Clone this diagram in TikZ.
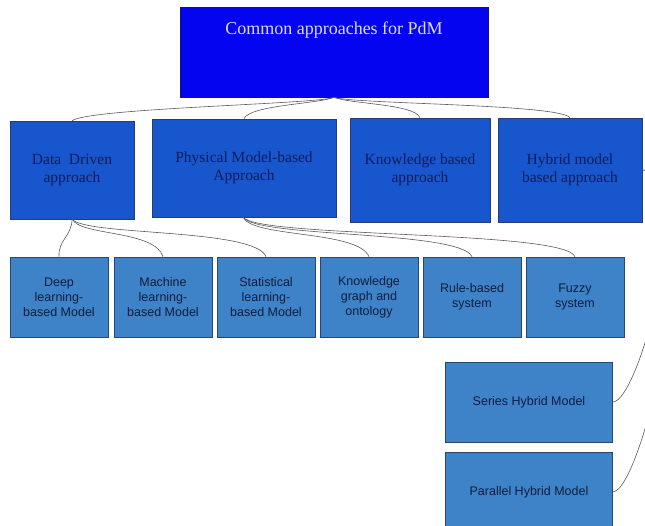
\documentclass[tikz,border=0pt]{standalone}
\usepackage{fontspec}
\setmainfont{Liberation Serif}
\newfontfamily\arialf{Liberation Sans}
\definecolor{topblue}{RGB}{4,4,240}
\definecolor{topedge}{RGB}{20,20,120}
\definecolor{lvlone}{RGB}{24,86,206}
\definecolor{lvloneedge}{RGB}{40,60,110}
\definecolor{lvltwo}{RGB}{62,130,200}
\definecolor{lvltwoedge}{RGB}{40,70,110}
\definecolor{navytext}{RGB}{16,28,90}
\definecolor{darktext}{RGB}{14,30,62}
\definecolor{titletext}{RGB}{220,220,245}
\definecolor{linkgrey}{RGB}{90,90,90}
\tikzset{
  topbox/.style={draw=topedge, line width=0.6pt, fill=topblue, rectangle, inner sep=0pt},
  onebox/.style={draw=lvloneedge, line width=0.6pt, fill=lvlone, rectangle, inner sep=0pt,
    text=navytext, align=center, font=\fontsize{15.5}{18}\selectfont},
  twobox/.style={draw=lvltwoedge, line width=0.6pt, fill=lvltwo, rectangle, inner sep=0pt,
    text=darktext, align=center, font=\arialf\fontsize{12.5}{15}\selectfont},
  link/.style={draw=linkgrey, line width=0.6pt},
  titletxt/.style={text=titletext, font=\fontsize{18}{21}\selectfont, inner sep=0pt}
}
\begin{document}
\begin{tikzpicture}[x=1pt,y=-1pt]
\useasboundingbox (0,0) rectangle (645,526);
\clip (0,0) rectangle (645,526);
% top
\node[topbox, minimum width=308pt, minimum height=90pt] (top) at (334,52) {};
\node[titletxt] (toptitle) at (334,30) {Common approaches for PdM};
% level one
\node[onebox, minimum width=124pt, minimum height=98pt] (dd) at (72,170) {Data\ \ Driven\\approach};
\node[onebox, minimum width=184pt, minimum height=98pt] (phy) at (244,168) {Physical Model-based\\Approach};
\node[onebox, minimum width=140pt, minimum height=104pt] (kb) at (420,170) {Knowledge based\\approach};
\node[onebox, minimum width=144pt, minimum height=104pt] (hyb) at (570,170) {Hybrid model\\based approach};
% level two
\node[twobox, minimum width=98pt, minimum height=80pt] (deep) at (59,297) {Deep\\learning-\\based Model};
\node[twobox, minimum width=98pt, minimum height=80pt] (mach) at (163,297) {Machine\\learning-\\based Model};
\node[twobox, minimum width=98pt, minimum height=80pt] (stat) at (266,297) {Statistical\\learning-\\based Model};
\node[twobox, minimum width=98pt, minimum height=80pt] (kg) at (369,297) {Knowledge\\graph and\\ontology};
\node[twobox, minimum width=98pt, minimum height=80pt] (rule) at (472,297) {Rule-based\\system};
\node[twobox, minimum width=98pt, minimum height=80pt] (fuzzy) at (575,297) {Fuzzy\\system};
% hybrid children
\node[twobox, minimum width=167pt, minimum height=80pt] (ser) at (529,402) {Series Hybrid Model};
\node[twobox, minimum width=167pt, minimum height=80pt] (par) at (529,492) {Parallel Hybrid Model};
% connectors top -> level one
\draw[link] (top.south) .. controls (320,104) and (90,108) .. (dd.north);
\draw[link] (top.south) .. controls (318,104) and (250,105) .. (phy.north);
\draw[link] (top.south) .. controls (350,104) and (415,104) .. (kb.north);
\draw[link] (top.south) .. controls (352,104) and (560,104) .. (hyb.north);
% data driven -> children
\coordinate (ddb) at (72,219);
\draw[link] (ddb) .. controls (72,236) and (58,240) .. (deep.north);
\draw[link] (ddb) .. controls (80,236) and (155,230) .. (mach.north);
\draw[link] (ddb) .. controls (84,236) and (255,228) .. (stat.north);
% physical -> children
\coordinate (phb) at (243,217);
\draw[link] (phb) .. controls (252,238) and (358,230) .. (kg.north);
\draw[link] (phb) .. controls (254,238) and (460,230) .. (rule.north);
\draw[link] (phb) .. controls (256,238) and (565,230) .. (fuzzy.north);
% hybrid -> series / parallel
\draw[link] (hyb.east) .. controls (700,170) and (640,402) .. (ser.east);
\draw[link] (hyb.east) .. controls (715,170) and (645,490) .. (par.east);
\end{tikzpicture}
\end{document}
